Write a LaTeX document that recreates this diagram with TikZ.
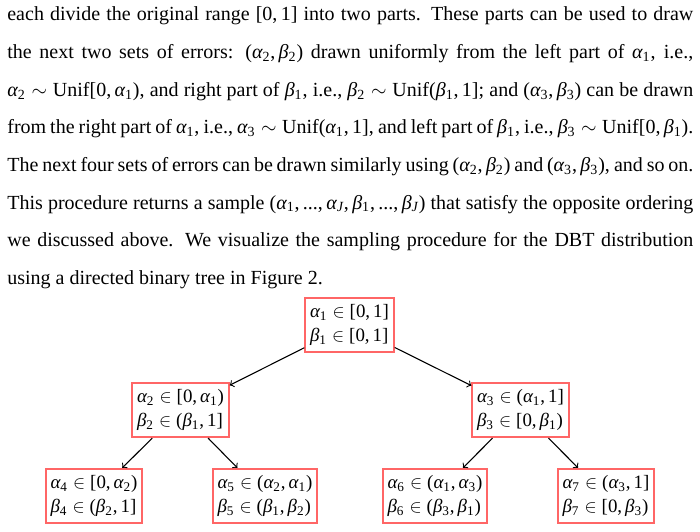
\documentclass[tikz,border=0pt]{standalone}
\usepackage{amsmath}
\usepackage{fontspec}
\setmainfont{Liberation Serif}
\DeclareSymbolFont{tuops}{TU}{\rmdefault}{m}{n}
\DeclareSymbolFont{tuit}{TU}{\rmdefault}{m}{it}
\AtBeginDocument{%
  \Umathchardef\alpha="0 \symtuit "03B1
  \Umathchardef\beta="0 \symtuit "03B2
  \Umathcode`0="0 \symtuops `0
  \Umathcode`1="0 \symtuops `1
  \Umathcode`2="0 \symtuops `2
  \Umathcode`3="0 \symtuops `3
  \Umathcode`4="0 \symtuops `4
  \Umathcode`5="0 \symtuops `5
  \Umathcode`6="0 \symtuops `6
  \Umathcode`7="0 \symtuops `7
  \Umathcode`8="0 \symtuops `8
  \Umathcode`9="0 \symtuops `9
  \Umathcode`J="0 \symtuit `J
  \Umathcode`(="4 \symtuops `(
  \Umathcode`)="5 \symtuops `)
  \Umathcode`[="4 \symtuops `[
  \Umathcode`]="5 \symtuops `]
  \Umathcode`,="6 \symtuops `,
  \Umathcode`.="0 \symtuops `.
}
\newlength\pxu
\setlength\pxu{0.55pt}
\definecolor{boxred}{RGB}{255,102,102}
\begin{document}
\begin{tikzpicture}[x=0.55pt,y=-0.55pt,
  txt/.style={anchor=base west,inner sep=0pt,font=\fontsize{11}{13}\selectfont},
  treebox/.style={draw=boxred,line width=1.1pt,fill=white,align=left,inner xsep=2.6pt,inner ysep=3.6pt,
    font=\fontsize{10.4}{13.2}\selectfont},
  edge/.style={->,line width=0.6pt}]
\useasboundingbox (0,0) rectangle (700,531);
\node[txt] (l1) at (7,21) {\makebox[686\pxu][s]{each divide the original range $[0,1]$ into two parts. These parts can be used to draw}};
\node[txt] (l2) at (7,58.6) {\makebox[686\pxu][s]{the next two sets of errors: $(\alpha_2,\beta_2)$ drawn uniformly from the left part of $\alpha_1$, i.e.,}};
\node[txt] (l3) at (7,96.2) {\makebox[686\pxu][s]{$\alpha_2\sim\text{Unif}[0,\alpha_1)$, and right part of $\beta_1$, i.e., $\beta_2\sim\text{Unif}(\beta_1,1]$; and $(\alpha_3,\beta_3)$ can be drawn}};
\node[txt] (l4) at (7,133.8) {\makebox[686\pxu][s]{from the right part of $\alpha_1$, i.e., $\alpha_3\sim\text{Unif}(\alpha_1,1]$, and left part of $\beta_1$, i.e., $\beta_3\sim\text{Unif}[0,\beta_1)$.}};
\node[txt] (l5) at (7,171.4) {\makebox[686\pxu][s]{The next four sets of errors can be drawn similarly using $(\alpha_2,\beta_2)$ and $(\alpha_3,\beta_3)$, and so on.}};
\node[txt] (l6) at (7,209) {\makebox[686\pxu][s]{This procedure returns a sample $(\alpha_1,...,\alpha_J,\beta_1,...,\beta_J)$ that satisfy the opposite ordering}};
\node[txt] (l7) at (7,246.6) {\makebox[686\pxu][s]{we discussed above. We visualize the sampling procedure for the DBT distribution}};
\node[txt] (l8) at (7,284.2) {using a directed binary tree in Figure 2.};

\node[treebox] (n1) at (349.5,325) {$\alpha_1\in[0,1]$\\$\beta_1\in[0,1]$};
\node[treebox] (n2) at (180.5,410) {$\alpha_2\in[0,\alpha_1)$\\$\beta_2\in(\beta_1,1]$};
\node[treebox] (n3) at (520.5,410) {$\alpha_3\in(\alpha_1,1]$\\$\beta_3\in[0,\beta_1)$};
\node[treebox] (n4) at (94,496) {$\alpha_4\in[0,\alpha_2)$\\$\beta_4\in(\beta_2,1]$};
\node[treebox] (n5) at (265,496) {$\alpha_5\in(\alpha_2,\alpha_1)$\\$\beta_5\in(\beta_1,\beta_2)$};
\node[treebox] (n6) at (435,496) {$\alpha_6\in(\alpha_1,\alpha_3)$\\$\beta_6\in(\beta_3,\beta_1)$};
\node[treebox] (n7) at (606,496) {$\alpha_7\in(\alpha_3,1]$\\$\beta_7\in[0,\beta_3)$};

\draw[edge] (n1) -- (n2);
\draw[edge] (n1) -- (n3);
\draw[edge] (n2) -- (n4);
\draw[edge] (n2) -- (n5);
\draw[edge] (n3) -- (n6);
\draw[edge] (n3) -- (n7);
\end{tikzpicture}
\end{document}
